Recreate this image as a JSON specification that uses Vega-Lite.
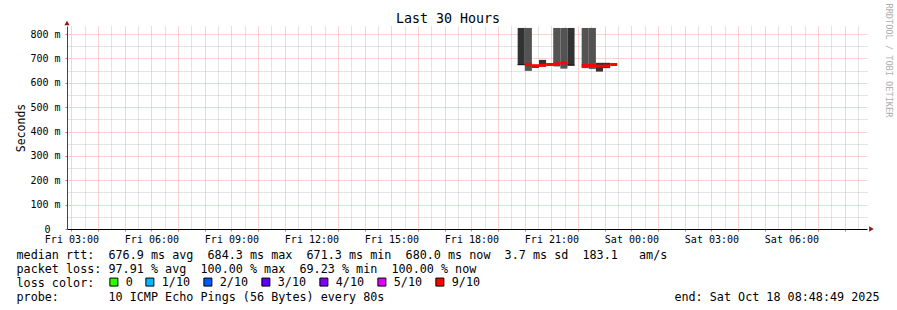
{
  "$schema": "https://vega.github.io/schema/vega-lite/v6.json",
  "width": 800,
  "height": 203,
  "autosize": {"type": "none"},
  "padding": {"left": 67, "top": 26, "right": 30, "bottom": 81},
  "background": "white",
  "config": {"view": {"stroke": null}, "font": "DejaVu Sans Mono"},
  "title": {
    "text": "Last 30 Hours",
    "font": "DejaVu Sans Mono",
    "fontSize": 13.3,
    "fontWeight": "normal",
    "color": "black",
    "anchor": "middle",
    "dx": -19,
    "dy": 33,
    "offset": 0,
    "baseline": "alphabetic"
  },
  "datasets": {
    "smoke": [
      {"t0": "2025-10-17T19:44:00Z", "t1": "2025-10-17T20:00:00Z", "lo": 672, "hi": 825, "shade": "dark"},
      {"t0": "2025-10-17T19:44:00Z", "t1": "2025-10-17T20:00:00Z", "lo": 673, "hi": 677, "shade": "black"},
      {"t0": "2025-10-17T20:00:00Z", "t1": "2025-10-17T20:16:00Z", "lo": 649, "hi": 825, "shade": "mid"},
      {"t0": "2025-10-17T20:16:00Z", "t1": "2025-10-17T20:32:00Z", "lo": 661, "hi": 672, "shade": "dark"},
      {"t0": "2025-10-17T20:32:00Z", "t1": "2025-10-17T20:48:00Z", "lo": 666, "hi": 694, "shade": "dark"},
      {"t0": "2025-10-17T21:04:00Z", "t1": "2025-10-17T21:20:00Z", "lo": 667, "hi": 825, "shade": "mid"},
      {"t0": "2025-10-17T21:20:00Z", "t1": "2025-10-17T21:36:00Z", "lo": 658, "hi": 825, "shade": "mid"},
      {"t0": "2025-10-17T21:36:00Z", "t1": "2025-10-17T21:52:00Z", "lo": 670, "hi": 825, "shade": "dark"},
      {"t0": "2025-10-17T21:36:00Z", "t1": "2025-10-17T21:52:00Z", "lo": 671, "hi": 675, "shade": "black"},
      {"t0": "2025-10-17T22:08:00Z", "t1": "2025-10-17T22:24:00Z", "lo": 660, "hi": 825, "shade": "mid"},
      {"t0": "2025-10-17T22:24:00Z", "t1": "2025-10-17T22:40:00Z", "lo": 657, "hi": 825, "shade": "mid"},
      {"t0": "2025-10-17T22:40:00Z", "t1": "2025-10-17T22:56:00Z", "lo": 646, "hi": 682, "shade": "dark"},
      {"t0": "2025-10-17T22:56:00Z", "t1": "2025-10-17T23:12:00Z", "lo": 660, "hi": 682, "shade": "dark"}
    ],
    "median": [
      {"t0": "2025-10-17T20:00:00Z", "t1": "2025-10-17T20:16:00Z", "med": 675.5, "loss": "9/10"},
      {"t0": "2025-10-17T20:16:00Z", "t1": "2025-10-17T20:32:00Z", "med": 670, "loss": "9/10"},
      {"t0": "2025-10-17T20:32:00Z", "t1": "2025-10-17T20:48:00Z", "med": 672, "loss": "9/10"},
      {"t0": "2025-10-17T20:48:00Z", "t1": "2025-10-17T21:04:00Z", "med": 675, "loss": "9/10"},
      {"t0": "2025-10-17T21:04:00Z", "t1": "2025-10-17T21:20:00Z", "med": 677.5, "loss": "9/10"},
      {"t0": "2025-10-17T21:20:00Z", "t1": "2025-10-17T21:36:00Z", "med": 681.5, "loss": "9/10"},
      {"t0": "2025-10-17T22:08:00Z", "t1": "2025-10-17T22:24:00Z", "med": 671, "loss": "9/10"},
      {"t0": "2025-10-17T22:24:00Z", "t1": "2025-10-17T22:40:00Z", "med": 671, "loss": "9/10"},
      {"t0": "2025-10-17T22:40:00Z", "t1": "2025-10-17T22:56:00Z", "med": 668, "loss": "9/10"},
      {"t0": "2025-10-17T22:56:00Z", "t1": "2025-10-17T23:12:00Z", "med": 669, "loss": "9/10"},
      {"t0": "2025-10-17T23:12:00Z", "t1": "2025-10-17T23:28:00Z", "med": 675, "loss": "9/10"}
    ]
  },
  "layer": [
    {
      "data": {"name": "smoke"},
      "mark": {"type": "rect"},
      "encoding": {
        "x": {
          "field": "t0",
          "type": "temporal",
          "scale": {"type": "utc", "domain": [1760669400000, 1760777400000], "padding": 0},
          "axis": {
            "orient": "top",
            "values": [1760671800000, 1760675400000, 1760679000000, 1760682600000, 1760686200000, 1760689800000, 1760693400000, 1760697000000, 1760700600000, 1760704200000, 1760707800000, 1760711400000, 1760715000000, 1760718600000, 1760722200000, 1760725800000, 1760729400000, 1760733000000, 1760736600000, 1760740200000, 1760743800000, 1760747400000, 1760751000000, 1760754600000, 1760758200000, 1760761800000, 1760765400000, 1760769000000, 1760772600000, 1760776200000],
            "grid": true,
            "gridColor": "#c8c8c8",
            "gridDash": [1, 1],
            "labels": false,
            "ticks": false,
            "domain": false,
            "title": null
          }
        },
        "x2": {"field": "t1"},
        "y": {
          "field": "lo",
          "type": "quantitative",
          "scale": {"domain": [0, 833], "nice": false, "zero": false, "padding": 0},
          "axis": {
            "orient": "right",
            "values": [50, 150, 250, 350, 450, 550, 650, 750],
            "grid": true,
            "gridColor": "#c8c8c8",
            "gridDash": [1, 1],
            "labels": false,
            "ticks": false,
            "domain": false,
            "title": "RRDTOOL / TOBI OETIKER",
            "titleFont": "DejaVu Sans Mono",
            "titleFontSize": 8.6,
            "titleFontWeight": "normal",
            "titleColor": "#b0b0b0",
            "titleAngle": 90,
            "titleAlign": "left",
            "titleBaseline": "middle",
            "titleX": 21,
            "titleY": -23
          }
        },
        "y2": {"field": "hi"},
        "fill": {
          "field": "shade",
          "type": "nominal",
          "scale": {"domain": ["dark", "mid", "black"], "range": ["#323232", "#535353", "#141414"]},
          "legend": null
        }
      }
    },
    {
      "data": {"name": "median"},
      "mark": {"type": "bar", "height": 3},
      "encoding": {
        "x": {
          "field": "t0",
          "type": "temporal",
          "scale": {"type": "utc", "domain": [1760669400000, 1760777400000], "padding": 0},
          "axis": {
            "orient": "bottom",
            "values": [1760670000000, 1760673600000, 1760677200000, 1760680800000, 1760684400000, 1760688000000, 1760691600000, 1760695200000, 1760698800000, 1760702400000, 1760706000000, 1760709600000, 1760713200000, 1760716800000, 1760720400000, 1760724000000, 1760727600000, 1760731200000, 1760734800000, 1760738400000, 1760742000000, 1760745600000, 1760749200000, 1760752800000, 1760756400000, 1760760000000, 1760763600000, 1760767200000, 1760770800000, 1760774400000],
            "grid": true,
            "gridColor": "#f3a6a6",
            "gridDash": [1, 1],
            "labelExpr": "utchours(datum.value) % 3 === 0 ? utcFormat(datum.value, '%a %H:%M') : ''",
            "labelFont": "DejaVu Sans Mono",
            "labelFontSize": 10,
            "labelColor": "black",
            "labelPadding": 3,
            "labelFlush": false,
            "labelOverlap": false,
            "ticks": true,
            "tickColor": "#e07070",
            "tickSize": 2,
            "domain": true,
            "domainColor": "black",
            "title": [
              "median rtt:\u00a0\u00a0676.9 ms avg\u00a0\u00a0684.3 ms max\u00a0\u00a0671.3 ms min\u00a0\u00a0680.0 ms now\u00a0\u00a03.7 ms sd\u00a0\u00a0183.1\u00a0\u00a0\u00a0am/s",
              "packet loss: 97.91 % avg\u00a0\u00a0100.00 % max\u00a0\u00a069.23 % min\u00a0\u00a0100.00 % now",
              "loss color:",
              "probe:\u00a0\u00a0\u00a0\u00a0\u00a0\u00a0\u00a010 ICMP Echo Pings (56 Bytes) every 80s\u00a0\u00a0\u00a0\u00a0\u00a0\u00a0\u00a0\u00a0\u00a0\u00a0\u00a0\u00a0\u00a0\u00a0\u00a0\u00a0\u00a0\u00a0\u00a0\u00a0\u00a0\u00a0\u00a0\u00a0\u00a0\u00a0\u00a0\u00a0\u00a0\u00a0\u00a0\u00a0\u00a0\u00a0\u00a0\u00a0\u00a0\u00a0\u00a0\u00a0\u00a0end: Sat Oct 18 08:48:49 2025"
            ],
            "titleFont": "DejaVu Sans Mono",
            "titleFontSize": 11.75,
            "titleFontWeight": "normal",
            "titleColor": "black",
            "titleAlign": "left",
            "titleAnchor": "start",
            "titleX": -51,
            "titleY": 29,
            "titleBaseline": "alphabetic",
            "titleLineHeight": 14,
            "titleLimit": 1200
          }
        },
        "x2": {"field": "t1"},
        "y": {
          "field": "med",
          "type": "quantitative",
          "scale": {"domain": [0, 833], "nice": false, "zero": false, "padding": 0},
          "axis": {
            "orient": "left",
            "values": [0, 100, 200, 300, 400, 500, 600, 700, 800],
            "grid": true,
            "gridColor": "#f3a6a6",
            "gridDash": [1, 1],
            "labelExpr": "datum.value === 0 ? '0' : datum.value + ' m'",
            "labelFont": "DejaVu Sans Mono",
            "labelFontSize": 10,
            "labelColor": "black",
            "labelPadding": {"condition": {"test": "datum.value === 0", "value": 15}, "value": 5},
            "labelFlush": false,
            "ticks": true,
            "tickSize": 2,
            "tickColor": "#e07070",
            "domain": true,
            "domainColor": "#444444",
            "title": "Seconds",
            "titleFont": "DejaVu Sans Mono",
            "titleFontSize": 11.5,
            "titleFontWeight": "normal",
            "titleColor": "black",
            "titlePadding": 3
          }
        },
        "color": {
          "field": "loss",
          "type": "nominal",
          "scale": {
            "domain": ["0", "1/10", "2/10", "3/10", "4/10", "5/10", "9/10"],
            "range": ["#26ff00", "#00b8ff", "#0059ff", "#5e00ff", "#7e00ff", "#dd00ff", "#ff0000"]
          },
          "legend": {
            "title": null,
            "orient": "none",
            "legendX": 41,
            "legendY": 250,
            "direction": "horizontal",
            "columns": 7,
            "symbolType": "square",
            "symbolSize": 64,
            "symbolStrokeColor": "black",
            "symbolStrokeWidth": 1,
            "labelFont": "DejaVu Sans Mono",
            "labelFontSize": 11.75,
            "labelColor": "black",
            "labelOffset": 6,
            "columnPadding": 10,
            "padding": 0
          }
        }
      }
    },
    {
      "data": {"values": [{}]},
      "mark": {"type": "point", "shape": "triangle-up", "filled": true, "size": 28, "color": "#8b1c1c", "opacity": 1, "clip": false},
      "encoding": {
        "x": {"datum": 1760669400000, "type": "temporal", "axis": null},
        "y": {"datum": 845, "type": "quantitative", "axis": null}
      }
    },
    {
      "data": {"values": [{}]},
      "mark": {"type": "point", "shape": "triangle-right", "filled": true, "size": 28, "color": "#8b1c1c", "opacity": 1, "clip": false},
      "encoding": {
        "x": {"datum": 1760778000000, "type": "temporal", "axis": null},
        "y": {"datum": 0, "type": "quantitative", "axis": null}
      }
    }
  ],
  "resolve": {"axis": {"x": "independent", "y": "independent"}}
}
